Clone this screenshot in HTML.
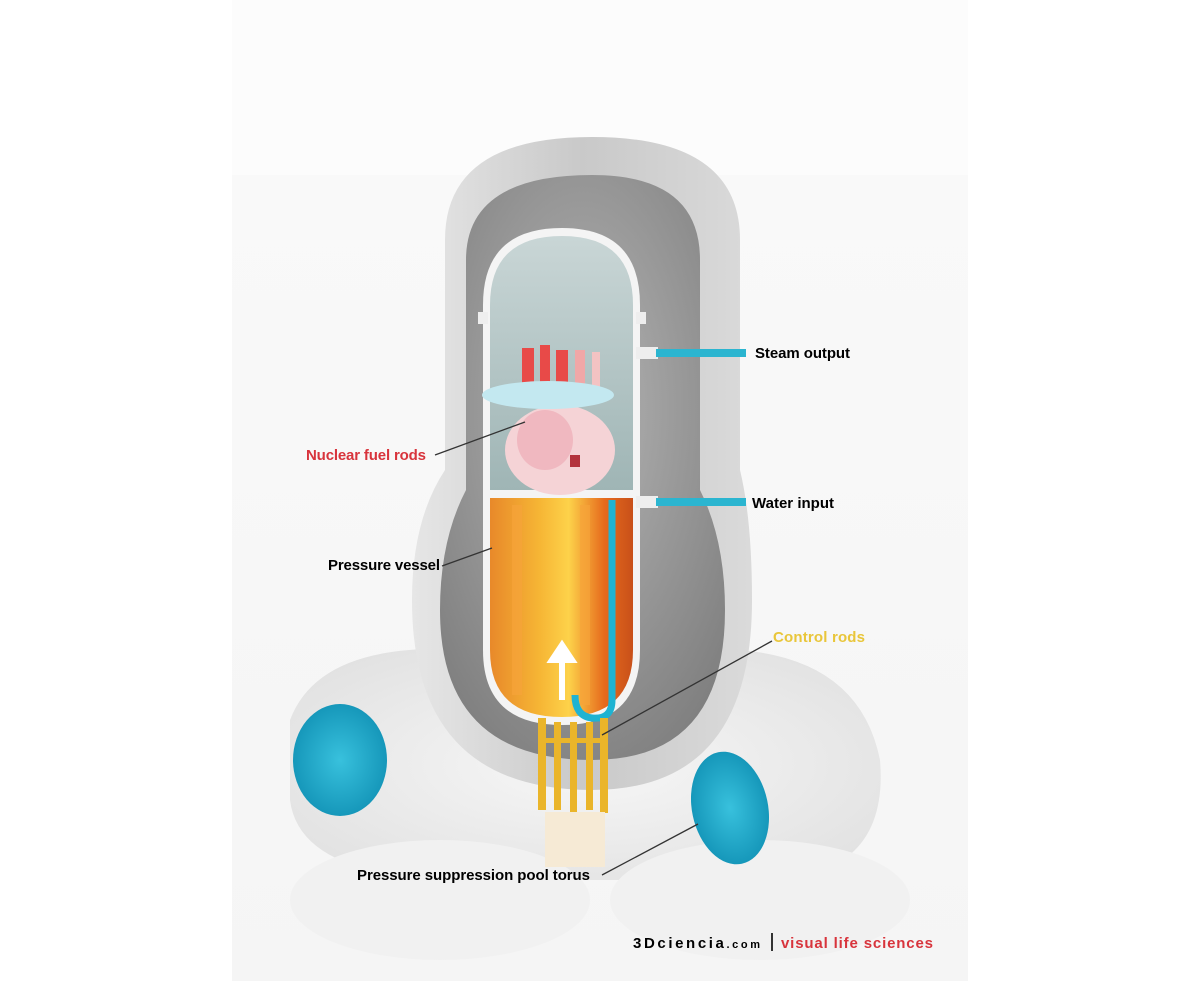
<!DOCTYPE html>
<html><head><meta charset="utf-8"><style>
html,body{margin:0;padding:0;background:#fff;}
svg{display:block;}
text{font-family:"Liberation Sans",sans-serif;font-weight:bold;font-size:15px;}
</style></head><body>
<svg width="1200" height="981" viewBox="0 0 1200 981" xmlns="http://www.w3.org/2000/svg">
<defs>
<linearGradient id="bg" x1="0" y1="0" x2="0" y2="1"><stop offset="0" stop-color="#fafafa"/><stop offset="1" stop-color="#f5f5f5"/></linearGradient>
<linearGradient id="outer" x1="0" y1="0" x2="1" y2="0"><stop offset="0" stop-color="#e6e6e6"/><stop offset="0.5" stop-color="#c9c9c9"/><stop offset="1" stop-color="#dadada"/></linearGradient>
<radialGradient id="cav" cx="0.5" cy="0.4" r="0.7"><stop offset="0" stop-color="#b5b5b5"/><stop offset="1" stop-color="#7d7d7d"/></radialGradient>
<linearGradient id="fuel" x1="0" y1="0" x2="1" y2="0"><stop offset="0" stop-color="#e8892a"/><stop offset="0.35" stop-color="#f6b635"/><stop offset="0.55" stop-color="#fdd24a"/><stop offset="0.8" stop-color="#e66a1c"/><stop offset="1" stop-color="#c8501a"/></linearGradient>
<linearGradient id="top" x1="0" y1="0" x2="0" y2="1"><stop offset="0" stop-color="#c9d6d6"/><stop offset="1" stop-color="#9fb5b5"/></linearGradient>
<radialGradient id="hole" cx="0.5" cy="0.5" r="0.6"><stop offset="0" stop-color="#38c1dd"/><stop offset="1" stop-color="#0f8fb3"/></radialGradient>
<radialGradient id="tor" cx="0.5" cy="0.5" r="0.6"><stop offset="0" stop-color="#f7f7f7"/><stop offset="1" stop-color="#e2e2e2"/></radialGradient>
</defs>
<rect x="232" y="0" width="736" height="981" fill="url(#bg)"/>
<rect x="232" y="0" width="736" height="175" fill="#fcfcfc"/>
<!-- torus -->
<path d="M290 720 Q320 640 470 650 L740 650 Q860 660 880 760 Q890 880 760 880 L470 880 Q300 880 290 800 Z" fill="url(#tor)"/>
<ellipse cx="440" cy="900" rx="150" ry="60" fill="#f1f1f1"/>
<ellipse cx="760" cy="900" rx="150" ry="60" fill="#f1f1f1"/>
<!-- outer containment -->
<path d="M445 240 Q445 137 592 137 Q740 137 740 240 L740 470 Q752 520 752 600 Q752 790 592 790 Q412 790 412 600 Q412 520 445 470 Z" fill="url(#outer)"/>
<path d="M466 260 Q466 175 592 175 Q700 175 700 260 L700 490 Q725 540 725 610 Q725 760 592 760 Q440 760 440 610 Q440 540 466 490 Z" fill="url(#cav)"/>
<!-- pressure vessel -->
<path d="M483 305 Q483 228 562 228 Q640 228 640 305 L640 650 Q640 725 562 725 Q483 725 483 650 Z" fill="#f4f4f4"/>
<path d="M490 305 Q490 236 562 236 Q633 236 633 305 L633 490 L490 490 Z" fill="url(#top)"/>
<rect x="478" y="312" width="10" height="12" fill="#eee"/><rect x="636" y="312" width="10" height="12" fill="#eee"/>
<path d="M490 498 L633 498 L633 650 Q633 717 562 717 Q490 717 490 650 Z" fill="url(#fuel)"/>
<g fill="#f7a43a" opacity="0.7"><rect x="512" y="505" width="10" height="190"/><rect x="580" y="505" width="10" height="200"/></g>
<path d="M562 700 L562 660 L552 660 L562 645 L572 660 L562 660" fill="#fff" stroke="#fff" stroke-width="6"/>
<!-- pink region -->
<ellipse cx="560" cy="450" rx="55" ry="45" fill="#f5d3d6"/>
<ellipse cx="545" cy="440" rx="28" ry="30" fill="#f0b8c0"/>
<rect x="570" y="455" width="10" height="12" fill="#b3333d"/>
<!-- red rods -->
<g fill="#e84a48"><rect x="522" y="348" width="12" height="42"/><rect x="540" y="345" width="10" height="46"/><rect x="556" y="350" width="12" height="40"/><rect x="575" y="350" width="10" height="40" fill="#f0a7a7"/><rect x="592" y="352" width="8" height="38" fill="#f3c3c3"/></g>
<ellipse cx="548" cy="395" rx="66" ry="14" fill="#c3e8f0"/>
<!-- blue tube -->
<path d="M612 500 L612 700 Q612 720 592 718 Q575 716 575 695" fill="none" stroke="#1fb3d2" stroke-width="7"/>
<!-- pipes -->
<rect x="636" y="347" width="22" height="12" fill="#eee"/><rect x="656" y="349" width="90" height="8" fill="#2bb5d0"/>
<rect x="636" y="496" width="22" height="12" fill="#eee"/><rect x="656" y="498" width="90" height="8" fill="#2bb5d0"/>
<!-- control rods -->
<g fill="#eab52a"><rect x="538" y="718" width="8" height="92"/><rect x="554" y="722" width="7" height="88"/><rect x="570" y="722" width="7" height="90"/><rect x="586" y="722" width="7" height="88"/><rect x="600" y="718" width="8" height="95"/><rect x="540" y="738" width="68" height="5"/></g>
<g fill="#f6ead5"><rect x="545" y="812" width="60" height="55"/></g>
<!-- holes -->
<ellipse cx="340" cy="760" rx="47" ry="56" fill="url(#hole)"/>
<ellipse cx="730" cy="808" rx="38" ry="57" fill="url(#hole)" transform="rotate(-12 730 808)"/>
<!-- leaders -->
<g stroke="#333" stroke-width="1.3"><line x1="435" y1="455" x2="525" y2="422"/><line x1="442" y1="566" x2="492" y2="548"/><line x1="602" y1="735" x2="772" y2="641"/><line x1="602" y1="875" x2="698" y2="824"/></g>
<text x="755" y="358" textLength="95">Steam output</text>
<text x="752" y="508" textLength="82">Water input</text>
<text x="306" y="460" fill="#d8343c" textLength="120">Nuclear fuel rods</text>
<text x="328" y="570" textLength="112">Pressure vessel</text>
<text x="773" y="642" fill="#e9c63a" textLength="92">Control rods</text>
<text x="357" y="880" textLength="233">Pressure suppression pool torus</text>
<text x="633" y="948" font-size="17" textLength="127">3Dciencia<tspan font-size="11">.com</tspan></text>
<rect x="771" y="933" width="2" height="18" fill="#333"/>
<text x="781" y="948" fill="#d8343c" font-size="15" textLength="152">visual life sciences</text>
</svg>
</body></html>
